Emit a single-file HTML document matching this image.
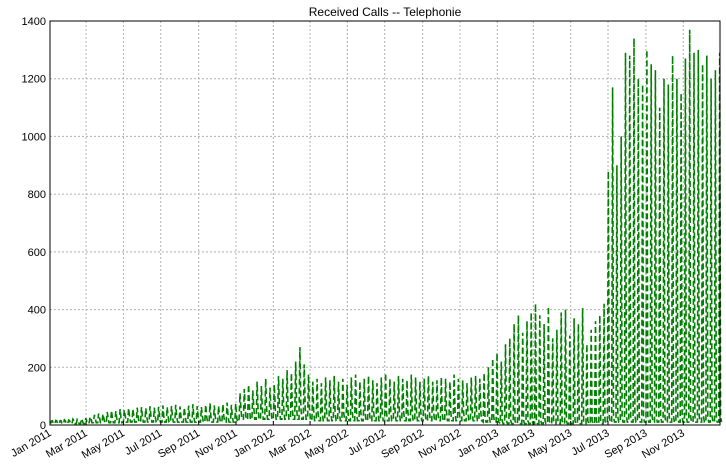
<!DOCTYPE html>
<html><head><meta charset="utf-8"><style>
body{margin:0;background:#fff;}
svg text{font-family:"Liberation Sans",sans-serif;font-size:11px;fill:#000;}
</style></head><body>
<svg id="chart" width="726" height="469" xmlns="http://www.w3.org/2000/svg">
<text x="385" y="16" text-anchor="middle" style="font-size:12px">Received Calls -- Telephonie</text>
<g id="grid"></g><g id="series"></g><g id="axes"></g>
</svg>
<script>
const tickLabels=["Jan 2011","Mar 2011","May 2011","Jul 2011","Sep 2011","Nov 2011","Jan 2012","Mar 2012","May 2012","Jul 2012","Sep 2012","Nov 2012","Jan 2013","Mar 2013","May 2013","Jul 2013","Sep 2013","Nov 2013"];
const tickDays=[0,59,120,181,243,304,365,425,486,547,609,670,731,790,851,912,974,1035];
const yTicks=[0,200,400,600,800,1000,1200,1400];
const weekPeak=[14,16,15,18,17,20,19,22,24,
28,35,40,38,45,50,48,55,
52,58,55,60,62,58,65,60,63,68,62,66,70,64,60,67,72,65,62,70,75,68,66,72,78,70,74,
110,125,140,120,150,135,160,130,
140,170,160,190,180,220,270,210,175,
150,160,145,165,155,170,150,160,140,165,175,150,160,170,155,145,165,180,160,150,170,160,155,175,165,150,160,170,150,155,165,160,150,175,160,155,145,165,170,160,
180,200,230,250,
220,280,300,350,380,320,360,390,
420,380,350,410,300,330,390,400,310,370,350,405,280,330,360,380,420,
880,1170,900,1000,1290,1280,1340,1200,1180,1300,1250,1230,1100,1200,1180,1280,1200,1150,1270,1370,1290,1300,1250,1280,1200,1230,1290];
const weekLow=[5,5,5,5,5,5,5,5,5, 8,8,8,8,8,8,8,8,
10,10,10,10,10,10,10,10,10,10,10,10,10,10,10,10,10,10,10,10,10,10,10,10,10,10,10,
20,20,20,20,20,20,20,20, 20,20,20,20,20,20,20,20,20,
15,15,15,15,15,15,15,15,15,15,15,15,15,15,15,15,15,15,15,15,15,15,15,15,15,15,15,15,15,15,15,15,15,15,15,15,15,15,15,15,
10,10,10,10, 5,5,5,5,5,5,5,5,
5,5,5,5,5,5,5,5,5,5,5,5,5,5,5,5,5,
10,10,10,10,10,10,10,10,10,10,10,10,10,10,10,10,10,10,10,10,10,10,10,10,10,10,10];
const L=50,R=720,T=21,B=425,totalDays=1095;
const x=d=>L+(R-L)*d/totalDays;
const y=v=>B-(B-T)*v/1400;
const NS="http://www.w3.org/2000/svg";
const mk=(t,a,p)=>{const e=document.createElementNS(NS,t);for(const k in a)e.setAttribute(k,a[k]);p.appendChild(e);return e;};
const grid=document.getElementById('grid'),ser=document.getElementById('series'),axes=document.getElementById('axes');
tickDays.forEach((d,i)=>{
 const g=mk('line',{x1:x(d),x2:x(d),y1:T,y2:B,stroke:'#b0b0b0','stroke-dasharray':'2,2'},grid);
 
 
 const tk=mk('line',{x1:x(d),x2:x(d),y1:B,y2:B-4,stroke:'#000'},axes);
 
 
 const t=mk('text',{x:x(d)+2,y:B+10,'text-anchor':'end',transform:`rotate(-30 ${x(d)+2} ${B+10})`},axes);
 t.textContent=tickLabels[i];
 
 
});
yTicks.forEach(v=>{
 const g=mk('line',{x1:L,x2:R,y1:y(v),y2:y(v),stroke:'#b0b0b0','stroke-dasharray':'2,2'},grid);
 
 
 const t=mk('text',{x:L-4,y:y(v)+4,'text-anchor':'end'},axes);
 t.textContent=v;
 
 
});
let pts=[];
weekPeak.forEach((p,i)=>{
 pts.push([x(i*7+1),y(weekLow[i])]);
 pts.push([x(i*7+2.5),y(p)]);
 pts.push([x(i*7+4),y(weekLow[i]*3)]);
 pts.push([x(i*7+5.5),y(weekLow[i])]);
});
const d=pts.map((p,i)=>(i?'L':'M')+p[0].toFixed(1)+' '+p[1].toFixed(1)).join('');
const ln=mk('path',{d:d,fill:'none',stroke:'#008000','stroke-width':1.6,'stroke-dasharray':'6,3'},ser);


const fr=mk('rect',{x:L,y:T,width:R-L,height:B-T,fill:'none',stroke:'#000'},axes);


</script>
</body></html>
